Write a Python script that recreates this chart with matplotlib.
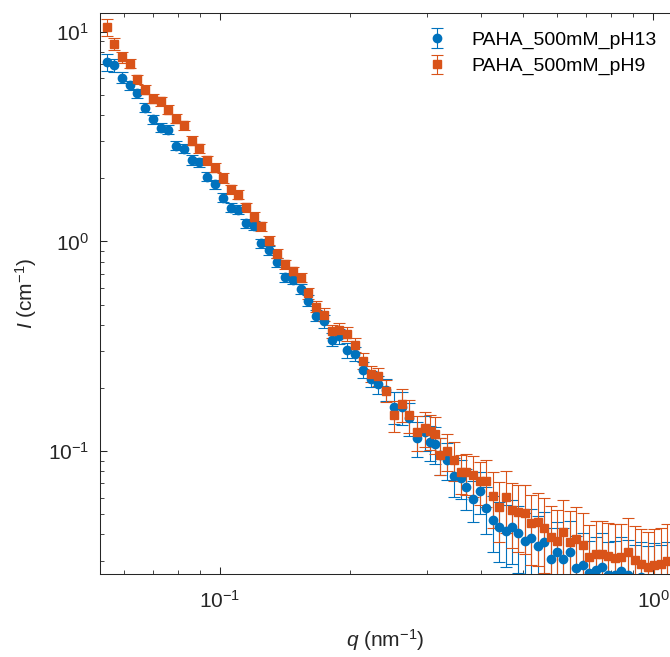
import numpy as np
import matplotlib
matplotlib.use('Agg')
import matplotlib.pyplot as plt
from matplotlib.ticker import LogLocator, NullFormatter

plt.rcParams['font.family'] = ['Liberation Sans', 'DejaVu Sans']
plt.rcParams['mathtext.fontset'] = 'custom'
plt.rcParams['mathtext.rm'] = 'Liberation Sans'
plt.rcParams['mathtext.it'] = 'Liberation Sans:italic'

# scattering vector q (nm^-1), shared by both samples
q = [0.0547, 0.0569, 0.0595, 0.0619, 0.0644, 0.0672, 0.0700, 0.0730, 0.0760, 0.0791,
     0.0826, 0.0862, 0.0896, 0.0935, 0.0974, 0.1014, 0.1059, 0.1100, 0.1146, 0.1196,
     0.1245, 0.1300, 0.1356, 0.1413, 0.1472, 0.1536, 0.1599, 0.1666, 0.1739, 0.1811,
     0.1886, 0.1968, 0.2050, 0.2136, 0.2228, 0.2321, 0.2417, 0.2522, 0.2627, 0.2736,
     0.2855, 0.2974, 0.3055, 0.3137, 0.3221, 0.3338, 0.3470, 0.3609, 0.3707, 0.3830,
     0.3985, 0.4117, 0.4264, 0.4409, 0.4569, 0.4725, 0.4886, 0.5063, 0.5236, 0.5418,
     0.5611, 0.5805, 0.6003, 0.6207, 0.6432, 0.6652, 0.6893, 0.7128, 0.7375, 0.7625,
     0.7886, 0.8172, 0.8451, 0.8755, 0.9072, 0.9397, 0.9723, 1.0071, 1.0419, 1.0755]

# intensity I (cm^-1)
I_ph13 = [7.17, 6.92, 6.05, 5.55, 5.10, 4.35, 3.82, 3.49, 3.41, 2.86,
          2.77, 2.45, 2.39, 2.04, 1.88, 1.62, 1.45, 1.42, 1.22, 1.19,
          0.98, 0.906, 0.796, 0.675, 0.656, 0.594, 0.521, 0.442, 0.416, 0.340,
          0.352, 0.302, 0.291, 0.244, 0.221, 0.208, 0.196, 0.163, 0.162, 0.144,
          0.116, 0.123, 0.111, 0.108, 0.0962, 0.0908, 0.0764, 0.0745, 0.0672, 0.0591,
          0.0648, 0.0536, 0.0469, 0.0433, 0.0417, 0.0436, 0.0405, 0.0374, 0.0385, 0.0354,
          0.0367, 0.0306, 0.0329, 0.0306, 0.0329, 0.0277, 0.0287, 0.0261, 0.0271, 0.0281,
          0.0257, 0.0257, 0.0269, 0.0257, 0.0245, 0.0250, 0.0240, 0.0245, 0.0240, 0.0245]

I_ph9 = [10.54, 8.78, 7.58, 7.05, 5.93, 5.30, 4.80, 4.67, 4.25, 3.85,
         3.58, 3.03, 2.79, 2.44, 2.25, 2.01, 1.78, 1.67, 1.46, 1.31,
         1.18, 1.01, 0.874, 0.777, 0.721, 0.671, 0.565, 0.488, 0.448, 0.372,
         0.376, 0.363, 0.322, 0.270, 0.234, 0.227, 0.194, 0.148, 0.167, 0.148,
         0.123, 0.129, 0.125, 0.121, 0.0962, 0.1005, 0.0908, 0.0792, 0.0792, 0.0772,
         0.0718, 0.0723, 0.0613, 0.0539, 0.0606, 0.0524, 0.0510, 0.0505, 0.0452, 0.0457,
         0.0430, 0.0391, 0.0374, 0.0413, 0.0367, 0.0379, 0.0358, 0.0311, 0.0323, 0.0321,
         0.0314, 0.0309, 0.0311, 0.0329, 0.0302, 0.0289, 0.0281, 0.0287, 0.0289, 0.0300]

# relative uncertainty of each point
rel_err = [0.09, 0.07, 0.06, 0.05, 0.05, 0.05, 0.05, 0.05, 0.05, 0.05,
           0.05, 0.05, 0.05, 0.05, 0.05, 0.05, 0.05, 0.05, 0.05, 0.05,
           0.05, 0.05, 0.05, 0.05, 0.05, 0.05, 0.06, 0.06, 0.07, 0.07,
           0.08, 0.08, 0.08, 0.09, 0.09, 0.10, 0.12, 0.17, 0.18, 0.18,
           0.19, 0.19, 0.19, 0.20, 0.20, 0.20, 0.21, 0.21, 0.22, 0.22,
           0.23, 0.25, 0.30, 0.32, 0.33, 0.34, 0.35, 0.36, 0.37, 0.38,
           0.39, 0.40, 0.40, 0.41, 0.41, 0.42, 0.42, 0.43, 0.43, 0.44,
           0.44, 0.45, 0.45, 0.46, 0.46, 0.47, 0.47, 0.48, 0.48, 0.50]

labels = ['PAHA_500mM_pH13', 'PAHA_500mM_pH9']
blue = '#0072BD'
orange = '#D95319'

q = np.array(q)
I13 = np.array(I_ph13)
I9 = np.array(I_ph9)
err = np.array(rel_err)

fig = plt.figure(figsize=(6.7, 6.57), dpi=100)
ax = fig.add_axes([100/670, 83/657, 570/670, 561/657])

ax.errorbar(q, I13, yerr=err*I13, fmt='o', color=blue, ms=6, mec=blue,
            elinewidth=0.8, capsize=4.5, capthick=0.8, label=labels[0])
ax.errorbar(q, I9, yerr=err*I9, fmt='s', color=orange, ms=5.5, mec=orange,
            elinewidth=0.8, capsize=4.5, capthick=0.8, label=labels[1])

ax.set_xscale('log')
ax.set_yscale('log')
ax.set_xlim(0.0528, 1.094)
ax.set_ylim(0.0259, 12.3)

ax.xaxis.set_major_locator(LogLocator(base=10))
ax.xaxis.set_minor_locator(LogLocator(base=10, subs=np.arange(2, 10)))
ax.xaxis.set_minor_formatter(NullFormatter())
ax.yaxis.set_minor_formatter(NullFormatter())

ax.tick_params(which='both', direction='in', top=True, right=False,
               color='#262626', labelsize=15, labelcolor='#262626')
ax.tick_params(which='major', length=5, width=0.75, pad=8)
ax.tick_params(axis='x', which='major', pad=11.5)
ax.tick_params(which='minor', length=3, width=0.6)
for s in ['left', 'bottom', 'top']:
    ax.spines[s].set_linewidth(0.75)
    ax.spines[s].set_color('#262626')
ax.spines['right'].set_visible(False)

ax.set_xlabel(r'$\mathit{q}$ (nm$^{-1}$)', fontsize=15, color='#262626', labelpad=11)
ax.set_ylabel(r'$\mathit{I}$ (cm$^{-1}$)', fontsize=15, color='#262626', labelpad=6)

leg = ax.legend(loc='upper left', bbox_to_anchor=(422/670, 1 - 31/657),
                bbox_transform=fig.transFigure, frameon=False, fontsize=14,
                handletextpad=1.05, borderaxespad=0, borderpad=0,
                labelspacing=0.45, handlelength=1.5)

fig.savefig('out.png', dpi=100)
